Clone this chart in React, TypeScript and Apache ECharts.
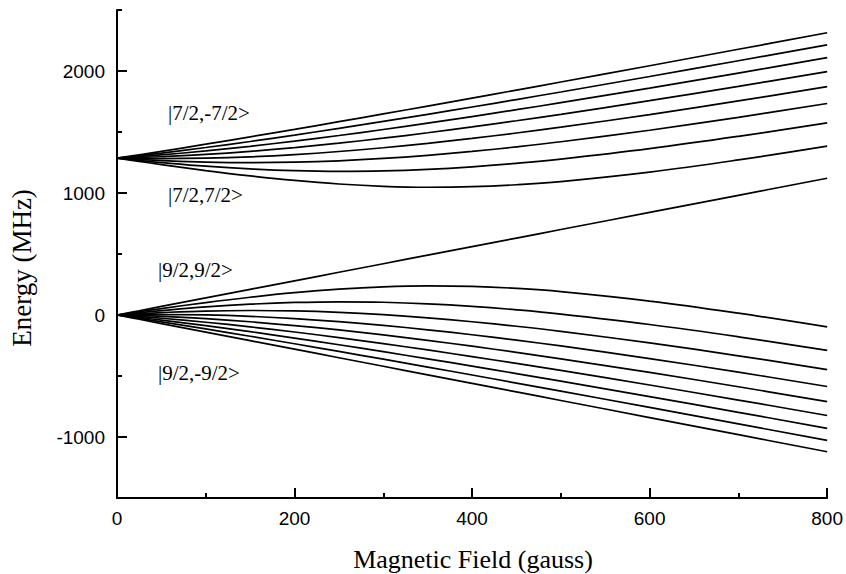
import React, { useEffect, useRef } from "react";
import * as echarts from "echarts";

// Magnetic field sample points (gauss)
const fieldGauss = [0, 25, 50, 100, 150, 200, 250, 300, 350, 400, 450, 500, 600, 700, 800];

// F = 7/2 manifold (MHz), top curve first
const f72_a = [1285.8, 1313.4, 1341.7, 1399.9, 1460.0, 1521.6, 1584.4, 1648.1, 1712.6, 1777.8, 1843.6, 1909.7, 2043.3, 2178.0, 2313.5];
const f72_b = [1285.8, 1305.9, 1327.2, 1373.0, 1422.4, 1474.8, 1529.6, 1586.5, 1645.0, 1704.9, 1766.0, 1828.1, 1954.7, 2083.8, 2214.7];
const f72_c = [1285.8, 1298.3, 1312.4, 1345.0, 1382.9, 1425.2, 1471.3, 1520.5, 1572.4, 1626.6, 1682.7, 1740.4, 1859.7, 1983.0, 2109.3];
const f72_d = [1285.8, 1290.6, 1297.3, 1315.9, 1341.1, 1372.2, 1408.5, 1449.2, 1493.7, 1541.6, 1592.1, 1645.1, 1756.6, 1874.0, 1995.6];
const f72_e = [1285.8, 1282.9, 1281.8, 1285.5, 1296.7, 1315.1, 1340.0, 1370.9, 1407.0, 1447.5, 1491.9, 1539.6, 1642.9, 1754.4, 1871.6];
const f72_f = [1285.8, 1275.0, 1266.0, 1253.6, 1249.0, 1252.6, 1264.1, 1283.1, 1309.0, 1340.9, 1378.2, 1420.0, 1514.6, 1620.2, 1733.6];
const f72_g = [1285.8, 1267.0, 1249.7, 1219.8, 1197.3, 1183.0, 1177.5, 1181.2, 1193.8, 1214.8, 1243.3, 1278.3, 1363.7, 1464.4, 1575.2];
const f72_h = [1285.8, 1259.0, 1233.0, 1184.0, 1140.2, 1102.9, 1073.8, 1054.8, 1047.1, 1051.5, 1067.6, 1094.0, 1171.5, 1271.0, 1383.8];

// F = 9/2 manifold (MHz), top curve first
const f92_a = [0, 35.0, 70.1, 140.1, 210.2, 280.3, 350.2, 420.4, 490.4, 560.5, 630.6, 700.6, 840.7, 980.8, 1121.0];
const f92_b = [0, 26.9, 52.9, 101.8, 145.6, 182.9, 211.9, 231.0, 238.7, 234.3, 218.3, 191.8, 114.3, 14.8, -98.0];
const f92_c = [0, 18.8, 36.1, 66.0, 88.5, 102.8, 108.3, 104.6, 92.0, 71.0, 42.5, 7.5, -77.9, -178.6, -289.4];
const f92_d = [0, 10.8, 19.8, 32.3, 36.8, 33.2, 21.7, 2.7, -23.2, -55.1, -92.4, -134.2, -228.8, -334.4, -447.8];
const f92_e = [0, 2.9, 4.0, 0.3, -10.9, -29.3, -54.2, -85.1, -121.2, -161.7, -206.1, -253.8, -357.1, -468.6, -585.8];
const f92_f = [0, -4.8, -11.5, -30.1, -55.3, -86.4, -122.7, -163.4, -207.9, -255.8, -306.3, -359.3, -470.8, -588.2, -709.8];
const f92_g = [0, -12.5, -26.6, -59.2, -97.1, -139.4, -185.5, -234.7, -286.6, -340.8, -396.9, -454.6, -573.9, -697.2, -823.5];
const f92_h = [0, -20.1, -41.4, -87.2, -136.6, -189.0, -243.8, -300.7, -359.2, -419.1, -480.2, -542.3, -668.9, -798.0, -928.9];
const f92_i = [0, -27.6, -55.9, -114.1, -174.2, -235.8, -298.6, -362.3, -426.8, -492.0, -557.8, -623.9, -757.5, -892.2, -1027.7];
const f92_j = [0, -35.0, -70.1, -140.1, -210.2, -280.3, -350.2, -420.4, -490.4, -560.5, -630.6, -700.6, -840.7, -980.8, -1121.0];

const allCurves = [
  f72_a, f72_b, f72_c, f72_d, f72_e, f72_f, f72_g, f72_h,
  f92_a, f92_b, f92_c, f92_d, f92_e, f92_f, f92_g, f92_h, f92_i, f92_j,
];

const stateLabels = ["|7/2,-7/2>", "|7/2,7/2>", "|9/2,9/2>", "|9/2,-9/2>"];

const xMin = 0, xMax = 800, xStep = 200;
const yMin = -1500, yMax = 2500, yMinorStep = 500, yMajorLo = -1000, yMajorHi = 2000, yMajorStep = 1000;

const W = 846, H = 574;
const gLeft = 117, gRight = 16, gTop = 10, gBottom = 76;

export default function App() {
  const ref = useRef<HTMLDivElement>(null);
  useEffect(() => {
    if (!ref.current) return;
    const chart = echarts.init(ref.current, undefined, { renderer: "svg" });
    const plotH = H - gTop - gBottom;
    const pxPerUnit = plotH / (yMax - yMin);
    const g2Top = gTop + (yMax - yMajorHi) * pxPerUnit;
    const g2Bottom = gBottom + (yMajorLo - yMin) * pxPerUnit;
    const sans = "Liberation Sans, Arial, sans-serif";
    const serif = "Liberation Serif, Times New Roman, serif";

    const series = allCurves.map((arr, k) => ({
      type: "line",
      name: "c" + k,
      xAxisIndex: 0,
      yAxisIndex: 0,
      data: fieldGauss.map((b, i) => [b, arr[i]]),
      showSymbol: false,
      symbol: "none",
      smooth: 0.4,
      lineStyle: { color: "#000", width: 1.7 },
      silent: true,
    }));

    const annot = (x: number, y: number, text: string) => ({
      type: "text",
      x,
      y,
      style: { text, fontFamily: serif, fontSize: 21, fill: "#000", align: "left", verticalAlign: "middle" },
    });

    chart.setOption({
      animation: false,
      backgroundColor: "#fff",
      grid: [
        { left: gLeft, right: gRight, top: gTop, bottom: gBottom },
        { left: gLeft, right: gRight, top: g2Top, bottom: g2Bottom },
      ],
      xAxis: [
        {
          type: "value",
          gridIndex: 0,
          min: xMin,
          max: xMax,
          interval: xStep,
          axisLine: { show: true, onZero: false, lineStyle: { color: "#000", width: 2 } },
          axisTick: { show: true, inside: true, length: 10, lineStyle: { color: "#000", width: 2 } },
          minorTick: { show: true, splitNumber: 2, length: 5, lineStyle: { color: "#000", width: 2 } },
          splitLine: { show: false },
          minorSplitLine: { show: false },
          axisLabel: { color: "#000", fontFamily: sans, fontSize: 19, margin: 11 },
        },
        { type: "value", gridIndex: 1, min: xMin, max: xMax, show: false },
      ],
      yAxis: [
        {
          type: "value",
          gridIndex: 0,
          min: yMin,
          max: yMax,
          interval: yMinorStep,
          axisLine: { show: true, onZero: false, lineStyle: { color: "#000", width: 2 } },
          axisTick: { show: true, inside: true, length: 5, lineStyle: { color: "#000", width: 2 } },
          splitLine: { show: false },
          axisLabel: {
            color: "#000",
            fontFamily: sans,
            fontSize: 19,
            margin: 12,
            formatter: (v: number) => (v % yMajorStep === 0 ? String(v) : ""),
          },
        },
        {
          type: "value",
          gridIndex: 1,
          min: yMajorLo,
          max: yMajorHi,
          interval: yMajorStep,
          axisLine: { show: false, onZero: false },
          axisTick: { show: true, inside: true, length: 10, lineStyle: { color: "#000", width: 2 } },
          splitLine: { show: false },
          axisLabel: { show: false },
        },
      ],
      series,
      graphic: [
        {
          type: "text",
          x: 22,
          y: 268,
          rotation: Math.PI / 2,
          style: {
            text: "Energy (MHz)",
            fontFamily: serif,
            fontSize: 27,
            fill: "#000",
            align: "center",
            verticalAlign: "middle",
          },
        },
        {
          type: "text",
          x: 473,
          y: 559,
          style: {
            text: "Magnetic Field (gauss)",
            fontFamily: serif,
            fontSize: 26,
            fill: "#000",
            align: "center",
            verticalAlign: "middle",
          },
        },
        annot(168, 113, stateLabels[0]),
        annot(168, 195, stateLabels[1]),
        annot(158, 270, stateLabels[2]),
        annot(158, 373, stateLabels[3]),
      ],
    });
    return () => chart.dispose();
  }, []);
  return (
    <div
      ref={ref}
      style={{ position: "absolute", left: 0, top: 0, width: W, height: H, background: "#fff" }}
    />
  );
}
